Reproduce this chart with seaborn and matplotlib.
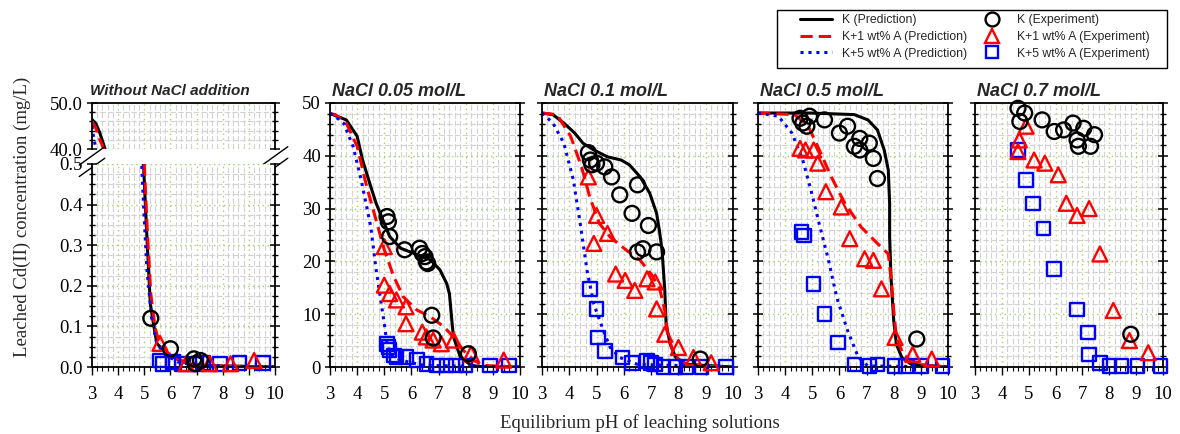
import numpy as np
import pandas as pd
import matplotlib
matplotlib.use("Agg")
import matplotlib.pyplot as plt
from matplotlib.lines import Line2D
from matplotlib.patches import Rectangle
from matplotlib.ticker import MultipleLocator, FormatStrFormatter
import seaborn as sns

# -----------------------------
# Data
# -----------------------------
panel_titles = ["Without NaCl addition", "NaCl 0.05 mol/L", "NaCl 0.1 mol/L",
                "NaCl 0.5 mol/L", "NaCl 0.7 mol/L"]
x_ticks = [3, 4, 5, 6, 7, 8, 9, 10]

# Without NaCl (broken y axis: 40-50 and 0-0.5)
p1_k_line_x = [3.0, 3.15, 3.3, 3.5, 4.97, 5.1, 5.23, 5.35, 5.48, 5.86, 6.37, 6.9, 10.0]
p1_k_line_y = [46.4, 45.5, 43.5, 40.0, 0.5, 0.32, 0.156, 0.107, 0.058, 0.033, 0.016, 0.004, 0.0]
p1_k1_line_x = [3.0, 3.15, 3.3, 3.45, 5.0, 5.12, 5.25, 5.4, 5.55, 5.8, 6.2, 6.8, 7.5, 10.0]
p1_k1_line_y = [46.0, 44.5, 42.0, 40.0, 0.5, 0.33, 0.18, 0.1, 0.065, 0.04, 0.02, 0.008, 0.003, 0.0]
p1_k5_line_x = [3.0, 3.05, 3.1, 3.15, 4.9, 4.97, 5.1, 5.29, 5.48, 5.8, 6.3, 7.0, 10.0]
p1_k5_line_y = [45.0, 43.0, 41.5, 40.0, 0.5, 0.4, 0.24, 0.115, 0.058, 0.03, 0.012, 0.004, 0.0]
p1_k_exp_x = [5.25, 6.0, 6.9, 6.95, 7.15]
p1_k_exp_y = [0.12, 0.045, 0.02, 0.008, 0.016]
p1_k1_exp_x = [5.6, 6.6, 7.5, 8.3, 9.2]
p1_k1_exp_y = [0.058, 0.008, 0.008, 0.008, 0.016]
p1_k5_exp_x = [5.58, 5.7, 6.1, 6.45, 7.0, 7.25, 7.9, 8.65, 9.55]
p1_k5_exp_y = [0.016, 0.008, 0.012, 0.008, 0.008, 0.01, 0.008, 0.01, 0.01]

# NaCl 0.05 mol/L
p2_k_line_x = [3.0, 3.1, 3.6, 4.0, 4.2, 4.5, 4.7, 5.0, 5.2, 5.6, 6.1, 6.7, 7.05, 7.3, 7.4, 7.5, 7.55, 7.8, 8.2, 8.7, 10.0]
p2_k_line_y = [48.0, 47.8, 46.8, 43.7, 39.2, 34.2, 31.0, 27.2, 24.7, 22.5, 21.5, 20.3, 18.4, 15.8, 13.9, 8.2, 5.7, 1.9, 0.3, 0.0, 0.0]
p2_k1_line_x = [3.0, 3.2, 3.6, 4.0, 4.35, 4.7, 5.0, 5.35, 5.7, 6.2, 6.7, 7.2, 7.55, 7.9, 8.3, 8.65, 10.0]
p2_k1_line_y = [48.0, 47.8, 46.2, 41.8, 34.2, 27.8, 22.2, 17.1, 13.3, 10.8, 9.5, 7.6, 5.7, 3.2, 1.3, 0.3, 0.0]
p2_k5_line_x = [3.0, 3.1, 3.5, 3.85, 4.15, 4.5, 4.7, 5.0, 5.1, 5.2, 5.6, 6.45, 10.0]
p2_k5_line_y = [48.0, 47.8, 46.2, 41.8, 35.4, 26.6, 18.4, 8.2, 4.4, 2.5, 1.3, 0.3, 0.0]
p2_k_exp_x = [5.1, 5.15, 5.2, 5.75, 6.3, 6.4, 6.5, 6.55, 6.6, 6.75, 6.8, 8.1]
p2_k_exp_y = [28.5, 27.5, 24.7, 22.2, 22.5, 21.5, 20.9, 19.9, 19.6, 9.8, 5.5, 2.5]
p2_k1_exp_x = [5.0, 5.0, 5.2, 5.45, 5.8, 5.8, 6.4, 6.55, 6.8, 7.1, 7.55, 8.2, 9.4]
p2_k1_exp_y = [22.8, 15.5, 13.9, 12.7, 11.4, 8.2, 6.6, 5.7, 5.1, 4.4, 5.1, 2.5, 1.3]
p2_k5_exp_x = [5.1, 5.15, 5.2, 5.35, 5.45, 5.8, 6.2, 6.55, 6.95, 7.3, 7.65, 8.0, 8.9, 9.6]
p2_k5_exp_y = [4.4, 3.8, 3.2, 2.2, 1.9, 1.9, 1.3, 0.6, 0.3, 0.3, 0.3, 0.3, 0.3, 0.3]

# NaCl 0.1 mol/L
p3_k_line_x = [3.0, 3.4, 3.8, 4.2, 4.5, 4.9, 5.4, 5.9, 6.2, 6.6, 6.95, 7.2, 7.3, 7.4, 7.45, 7.5, 7.55, 7.7, 7.9, 8.3, 10.0]
p3_k_line_y = [48.1, 47.8, 46.2, 44.3, 42.4, 41.1, 39.8, 39.2, 38.3, 36.0, 32.9, 29.1, 25.9, 22.1, 18.3, 14.5, 8.1, 4.3, 1.8, 0.5, 0.0]
p3_k1_line_x = [3.0, 3.55, 4.05, 4.45, 4.75, 5.1, 5.5, 6.1, 6.6, 7.0, 7.3, 7.5, 7.6, 7.8, 8.05, 8.4, 10.0]
p3_k1_line_y = [48.1, 47.8, 43.7, 37.9, 32.2, 27.2, 24.6, 22.1, 20.2, 17.6, 15.1, 10.7, 6.2, 3.0, 1.1, 0.2, 0.0]
p3_k5_line_x = [3.0, 3.4, 3.8, 4.15, 4.4, 4.65, 4.9, 5.25, 5.5, 5.85, 6.5, 10.0]
p3_k5_line_y = [48.1, 46.2, 42.4, 35.4, 27.2, 18.3, 11.9, 6.9, 3.7, 1.8, 0.5, 0.0]
p3_k_exp_x = [4.7, 4.77, 4.83, 5.0, 5.3, 5.55, 5.85, 6.5, 6.3, 6.9, 6.5, 6.7, 7.2, 8.8]
p3_k_exp_y = [40.6, 39.2, 38.3, 38.6, 37.9, 36.0, 32.6, 34.5, 29.1, 26.8, 21.8, 22.4, 21.8, 1.5]
p3_k1_exp_x = [4.7, 5.0, 5.4, 4.9, 5.7, 6.05, 6.4, 6.85, 7.15, 7.2, 7.5, 8.0, 8.55, 9.2]
p3_k1_exp_y = [36.0, 28.7, 25.3, 23.4, 17.6, 16.4, 14.5, 16.7, 16.1, 11.0, 6.2, 3.7, 1.8, 0.8]
p3_k5_exp_x = [4.75, 5.0, 5.05, 5.3, 5.95, 6.3, 6.85, 7.0, 7.15, 7.45, 7.9, 8.3, 8.85, 9.75]
p3_k5_exp_y = [14.8, 11.0, 5.6, 3.0, 1.8, 0.8, 1.1, 0.8, 0.5, 0.0, 0.0, 0.0, 0.0, 0.0]

# NaCl 0.5 mol/L
p4_k_line_x = [3.0, 4.95, 6.55, 7.05, 7.4, 7.65, 7.8, 7.85, 7.85, 7.9, 8.0, 8.1, 8.3, 8.65, 10.0]
p4_k_line_y = [48.1, 48.1, 47.8, 46.8, 44.9, 41.1, 37.3, 31.0, 24.6, 17.0, 8.8, 4.3, 1.8, 0.5, 0.0]
p4_k1_line_x = [3.0, 4.35, 4.85, 5.2, 5.7, 6.2, 6.8, 7.4, 7.8, 7.9, 8.0, 8.1, 8.35, 8.8, 10.0]
p4_k1_line_y = [48.1, 47.8, 45.6, 41.8, 36.0, 31.0, 26.5, 23.4, 21.4, 17.0, 10.7, 5.6, 2.4, 0.5, 0.0]
p4_k5_line_x = [3.0, 3.75, 4.25, 4.65, 4.95, 5.25, 5.6, 5.9, 6.3, 6.7, 7.05, 10.0]
p4_k5_line_y = [48.1, 47.5, 44.3, 39.2, 33.5, 27.2, 20.2, 13.2, 6.9, 1.8, 0.2, 0.0]
p4_k_exp_x = [4.55, 4.65, 4.8, 4.9, 5.45, 6.0, 6.3, 6.75, 7.1, 6.55, 6.75, 7.25, 7.4, 8.85]
p4_k_exp_y = [47.1, 46.2, 45.6, 47.5, 46.8, 44.3, 45.6, 43.3, 42.4, 41.8, 41.1, 39.5, 35.7, 5.3]
p4_k1_exp_x = [4.55, 4.75, 5.05, 5.2, 5.5, 6.07, 6.38, 6.93, 7.25, 7.55, 8.05, 8.7, 9.4]
p4_k1_exp_y = [41.4, 41.1, 41.1, 38.6, 33.2, 30.3, 24.3, 20.5, 20.2, 14.8, 5.6, 2.4, 1.5]
p4_k5_exp_x = [4.6, 4.7, 5.05, 5.45, 5.95, 6.55, 7.1, 7.4, 8.05, 8.45, 9.0, 9.8]
p4_k5_exp_y = [25.6, 24.9, 15.7, 10.0, 4.6, 0.5, 0.2, 0.5, 0.2, 0.2, 0.2, 0.2]

# NaCl 0.7 mol/L (experiments only)
p5_k_exp_x = [4.6, 4.85, 4.67, 5.5, 5.95, 6.3, 6.65, 7.05, 7.45, 6.8, 6.85, 7.3, 8.8]
p5_k_exp_y = [49.0, 48.1, 46.5, 46.8, 44.6, 44.9, 46.2, 45.2, 44.0, 43.0, 41.8, 41.8, 6.2]
p5_k1_exp_x = [4.9, 4.65, 4.6, 5.2, 5.6, 6.1, 6.4, 6.8, 7.25, 7.65, 8.15, 8.75, 9.45]
p5_k1_exp_y = [45.6, 43.0, 40.8, 39.2, 38.6, 36.4, 31.0, 28.7, 30.0, 21.4, 10.7, 5.0, 2.7]
p5_k5_exp_x = [4.6, 4.9, 5.15, 5.55, 5.95, 6.8, 7.2, 7.25, 7.65, 8.0, 8.45, 9.05, 9.9]
p5_k5_exp_y = [41.1, 35.4, 31.0, 26.2, 18.6, 10.9, 6.5, 2.4, 0.8, 0.2, 0.2, 0.2, 0.2]

series_labels = ["K (Prediction)", "K+1 wt% A (Prediction)", "K+5 wt% A (Prediction)",
                 "K (Experiment)", "K+1 wt% A (Experiment)", "K+5 wt% A (Experiment)"]

# -----------------------------
# Styles
# -----------------------------
sns.set_style("white")
plt.rcParams["font.family"] = ["Liberation Serif", "DejaVu Serif"]

line_styles = {
    "k": dict(color="black", linestyle="-", linewidth=2.2),
    "k1": dict(color="red", linestyle=(0, (4, 2)), linewidth=2.2),
    "k5": dict(color="blue", linestyle=(0, (1, 1.6)), linewidth=2.2),
}
marker_styles = {
    "k": dict(marker="o", s=115, edgecolor="black"),
    "k1": dict(marker="^", s=115, edgecolor="red"),
    "k5": dict(marker="s", s=95, edgecolor="blue"),
}

fig = plt.figure(figsize=(11.8, 4.34), dpi=100)

W, H = 1180.0, 434.0
bottom = (H - 367) / H
height = 264 / H
lefts = [92, 330, 542, 758, 975]
widths = [183, 190, 191, 190, 188]


def style_axis(ax, ymin, ymax, ymajor, yminor):
    ax.set_xlim(3, 10)
    ax.set_ylim(ymin, ymax)
    ax.xaxis.set_major_locator(MultipleLocator(1))
    ax.xaxis.set_minor_locator(MultipleLocator(0.2))
    ax.yaxis.set_major_locator(MultipleLocator(ymajor))
    ax.yaxis.set_minor_locator(MultipleLocator(yminor))
    ax.grid(which="minor", color="#d2d2d2", linestyle=(0, (5, 2)), linewidth=0.8)
    ax.grid(which="major", color="#a8d070", linestyle=(0, (1, 2.5)), linewidth=1.0)
    ax.set_axisbelow(True)
    for sp in ax.spines.values():
        sp.set_color("black")
        sp.set_linewidth(1.3)
    ax.tick_params(axis="both", which="both", left=True, right=True, bottom=True,
                   top=False, direction="inout", colors="black", labelsize=13.5)
    ax.tick_params(axis="y", which="major", length=7, width=1.1, pad=3)
    ax.tick_params(axis="y", which="minor", length=5, width=1.0)
    ax.tick_params(axis="x", which="major", length=6, width=1.0, direction="out", pad=8)
    ax.tick_params(axis="x", which="minor", length=3, width=0.8, direction="out")
    ax.set_xticks(x_ticks)
    ax.set_xlabel("")
    ax.set_ylabel("")


def draw_lines(ax, xs, ys, key):
    df = pd.DataFrame({"pH": xs, "Cd": ys})
    sns.lineplot(data=df, x="pH", y="Cd", ax=ax, sort=False, estimator=None,
                 **line_styles[key])


def draw_points(ax, xs, ys, key):
    df = pd.DataFrame({"pH": xs, "Cd": ys})
    sns.scatterplot(data=df, x="pH", y="Cd", ax=ax, facecolor="none",
                    linewidth=1.7, clip_on=False, zorder=5, **marker_styles[key])


# -----------------------------
# Panel 1: broken y axis
# -----------------------------
up_bottom = (H - 149) / H
up_height = 46 / H
low_height = 203 / H
ax_up = fig.add_axes([lefts[0] / W, up_bottom, widths[0] / W, up_height])
ax_low = fig.add_axes([lefts[0] / W, bottom, widths[0] / W, low_height])

for ax in (ax_up, ax_low):
    draw_lines(ax, p1_k_line_x, p1_k_line_y, "k")
    draw_lines(ax, p1_k1_line_x, p1_k1_line_y, "k1")
    draw_lines(ax, p1_k5_line_x, p1_k5_line_y, "k5")

draw_points(ax_low, p1_k5_exp_x, p1_k5_exp_y, "k5")
draw_points(ax_low, p1_k1_exp_x, p1_k1_exp_y, "k1")
draw_points(ax_low, p1_k_exp_x, p1_k_exp_y, "k")

style_axis(ax_up, 40, 50, 10, 2)
style_axis(ax_low, 0, 0.5, 0.1, 0.025)
ax_up.yaxis.set_major_formatter(FormatStrFormatter("%.1f"))
ax_low.yaxis.set_major_formatter(FormatStrFormatter("%.1f"))
ax_up.spines["bottom"].set_visible(False)
ax_low.spines["top"].set_visible(False)
ax_up.tick_params(axis="x", which="both", bottom=False, labelbottom=False)
ax_up.set_title(panel_titles[0], loc="left", fontfamily="Liberation Sans",
                fontweight="bold", fontstyle="italic", fontsize=11, pad=6, x=-0.01)

# break marks
for xa in (0.0, 1.0):
    ax_up.plot([xa - 0.07, xa + 0.07], [-0.35, 0.05], transform=ax_up.transAxes,
               color="black", lw=1.0, clip_on=False)
    ax_up.plot([xa - 0.07, xa + 0.07], [-0.6, -0.2], transform=ax_up.transAxes,
               color="black", lw=1.0, clip_on=False)

# -----------------------------
# Panels 2-5
# -----------------------------
panel_lines = [
    (p2_k_line_x, p2_k_line_y, p2_k1_line_x, p2_k1_line_y, p2_k5_line_x, p2_k5_line_y),
    (p3_k_line_x, p3_k_line_y, p3_k1_line_x, p3_k1_line_y, p3_k5_line_x, p3_k5_line_y),
    (p4_k_line_x, p4_k_line_y, p4_k1_line_x, p4_k1_line_y, p4_k5_line_x, p4_k5_line_y),
    None,
]
panel_points = [
    (p2_k_exp_x, p2_k_exp_y, p2_k1_exp_x, p2_k1_exp_y, p2_k5_exp_x, p2_k5_exp_y),
    (p3_k_exp_x, p3_k_exp_y, p3_k1_exp_x, p3_k1_exp_y, p3_k5_exp_x, p3_k5_exp_y),
    (p4_k_exp_x, p4_k_exp_y, p4_k1_exp_x, p4_k1_exp_y, p4_k5_exp_x, p4_k5_exp_y),
    (p5_k_exp_x, p5_k_exp_y, p5_k1_exp_x, p5_k1_exp_y, p5_k5_exp_x, p5_k5_exp_y),
]

for i in range(4):
    ax = fig.add_axes([lefts[i + 1] / W, bottom, widths[i + 1] / W, height])
    if panel_lines[i] is not None:
        kx, ky, k1x, k1y, k5x, k5y = panel_lines[i]
        draw_lines(ax, kx, ky, "k")
        draw_lines(ax, k1x, k1y, "k1")
        draw_lines(ax, k5x, k5y, "k5")
    kx, ky, k1x, k1y, k5x, k5y = panel_points[i]
    draw_points(ax, k5x, k5y, "k5")
    draw_points(ax, k1x, k1y, "k1")
    draw_points(ax, kx, ky, "k")
    style_axis(ax, 0, 50, 10, 2)
    if i > 0:
        ax.tick_params(axis="y", labelleft=False)
    ax.set_title(panel_titles[i + 1], loc="left", fontfamily="Liberation Sans",
                 fontweight="bold", fontstyle="italic", fontsize=13, pad=5, x=0.01)

# -----------------------------
# Axis labels and legend
# -----------------------------
fig.text(22 / W, 0.5, "Leached Cd(II) concentration (mg/L)", rotation=90,
         ha="center", va="center", fontsize=13.5)
fig.text(640 / W, 1 - 423 / H, "Equilibrium pH of leaching solutions",
         ha="center", va="center", fontsize=13.5)

handles = [
    Line2D([], [], **line_styles["k"]),
    Line2D([], [], **line_styles["k1"]),
    Line2D([], [], **line_styles["k5"]),
    Line2D([], [], linestyle="none", marker="o", markersize=10, markerfacecolor="none",
           markeredgecolor="black", markeredgewidth=1.7),
    Line2D([], [], linestyle="none", marker="^", markersize=10, markerfacecolor="none",
           markeredgecolor="red", markeredgewidth=1.7),
    Line2D([], [], linestyle="none", marker="s", markersize=9, markerfacecolor="none",
           markeredgecolor="blue", markeredgewidth=1.7),
]
fig.patches.append(Rectangle((777 / W, 1 - 68 / H), 390 / W, 58 / H,
                             transform=fig.transFigure, fill=False,
                             edgecolor="black", linewidth=1.0))
fig.legend(handles, series_labels, ncol=2, loc="upper left",
           bbox_to_anchor=(800 / W, 1 - 14 / H), frameon=False,
           prop={"family": "Liberation Sans", "size": 8.8}, handlelength=2.6,
           columnspacing=0.75, labelspacing=0.4, borderpad=0,
           handletextpad=0.8, borderaxespad=0)

fig.savefig("out.png", dpi=100, facecolor="white")
